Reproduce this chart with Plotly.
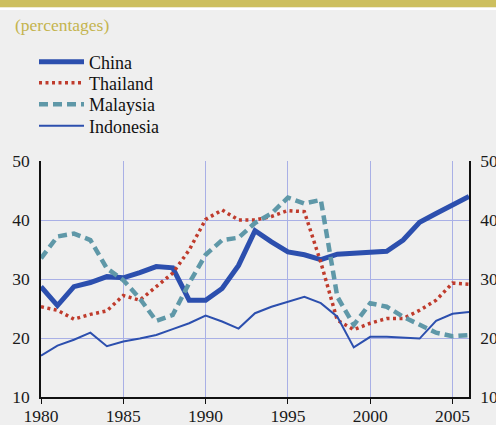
import plotly.graph_objects as go

years = list(range(1980, 2007))
china = [28.7, 25.5, 28.7, 29.4, 30.4, 30.2, 31.1, 32.1, 31.9, 26.4, 26.4, 28.4, 32.3,
         38.2, 36.3, 34.6, 34.1, 33.3, 34.2, 34.3, 34.5, 34.7, 36.6, 39.6, 41.1, 42.5, 44.0]
thailand = [25.3, 24.7, 23.2, 24.0, 24.6, 27.2, 26.4, 28.7, 31.0, 34.9, 40.1, 41.7, 40.0,
            40.0, 40.6, 41.6, 41.4, 32.8, 23.0, 21.4, 22.5, 23.3, 23.3, 24.7, 26.4, 29.3, 29.1]
malaysia = [33.5, 37.2, 37.7, 36.6, 31.8, 29.8, 26.7, 22.9, 23.9, 29.3, 34.1, 36.6, 37.0,
            39.5, 41.1, 43.8, 42.8, 43.4, 27.0, 22.2, 25.9, 25.3, 23.6, 22.2, 20.9, 20.3, 20.5]
indonesia = [17.0, 18.7, 19.7, 20.9, 18.6, 19.4, 19.9, 20.5, 21.5, 22.5, 23.8, 22.8, 21.6,
             24.2, 25.3, 26.2, 27.0, 25.9, 23.6, 18.4, 20.2, 20.2, 20.1, 19.9, 22.9, 24.1, 24.4]
y_ticks = [10, 20, 30, 40, 50]
x_ticks = [1980, 1985, 1990, 1995, 2000, 2005]

BLUE = "#2c4fae"
RED = "#bf3b2c"
TEAL = "#5f98a8"
GRID = "#a9b0e6"
BG = "#efefef"
SERIF = "'Liberation Serif', 'Times New Roman', Times, serif"

W, H = 496, 425
ML, MR, MT, MB = 41, 27, 161, 28
PW = W - ML - MR
PH = H - MT - MB


def px_x(x):
    return (x - ML) / PW


def px_y(y):
    return 1 + (MT - y) / PH


fig = go.Figure()
fig.add_trace(go.Scatter(x=years, y=china, name="China", mode="lines", legend="legend",
                         line=dict(color=BLUE, width=5)))
fig.add_trace(go.Scatter(x=years, y=thailand, name="Thailand", mode="lines", legend="legend2",
                         line=dict(color=RED, width=3.5, dash="3px,3.5px")))
fig.add_trace(go.Scatter(x=years, y=malaysia, name="Malaysia", mode="lines", legend="legend3",
                         line=dict(color=TEAL, width=4.5, dash="9px,5px")))
fig.add_trace(go.Scatter(x=years, y=indonesia, name="Indonesia", mode="lines", legend="legend4",
                         line=dict(color=BLUE, width=2)))
# invisible trace to carry the right-hand axis
fig.add_trace(go.Scatter(x=[years[0]], y=[y_ticks[0]], yaxis="y2", mode="markers",
                         marker=dict(opacity=0), showlegend=False, hoverinfo="skip"))

leg_common = dict(xanchor="left", yanchor="middle", bgcolor="rgba(0,0,0,0)",
                  font=dict(size=18, family=SERIF, color="#111"), itemwidth=45,
                  borderwidth=0)
legend_rows = {"legend": 62, "legend2": 83, "legend3": 104.5, "legend4": 126}
for key, ypx in legend_rows.items():
    fig.update_layout({key: dict(x=px_x(34), y=px_y(ypx), **leg_common)})

fig.update_layout(
    width=W, height=H,
    margin=dict(l=ML, r=MR, t=MT, b=MB, autoexpand=False),
    paper_bgcolor=BG, plot_bgcolor=BG,
    font=dict(family=SERIF, size=17, color="#1a1a1a"),
    showlegend=True,
    xaxis=dict(range=[1980, 2006], tickvals=x_ticks, showgrid=True, gridcolor=GRID,
               gridwidth=1, zeroline=False, showline=True, linecolor="#111", linewidth=1.5,
               ticks="outside", ticklen=5, tickcolor="#111", tickfont=dict(size=17.5),
               ticklabelstandoff=-3),
    yaxis=dict(range=[10, 50], tickvals=y_ticks, showgrid=True, gridcolor=GRID,
               gridwidth=1, zeroline=False, showline=True, linecolor="#111", linewidth=1.5,
               ticks="outside", ticklen=6, tickcolor="rgba(0,0,0,0)", tickfont=dict(size=17.5)),
    yaxis2=dict(range=[10, 50], tickvals=y_ticks, overlaying="y", side="right",
                showgrid=False, zeroline=False, showline=True, linecolor="#111",
                linewidth=1.5, ticks="outside", ticklen=6, tickcolor="rgba(0,0,0,0)",
                tickfont=dict(size=17.5)),
    shapes=[
        dict(type="rect", xref="paper", yref="paper", x0=px_x(0), x1=px_x(W),
             y0=px_y(7.5), y1=px_y(0), fillcolor="#cdbf5e", line=dict(width=0),
             layer="below"),
        dict(type="rect", xref="paper", yref="paper", x0=px_x(0), x1=px_x(W),
             y0=px_y(10), y1=px_y(7.5), fillcolor="#ffffff", line=dict(width=0),
             layer="below"),
    ],
    annotations=[
        dict(text="(percentages)", xref="paper", yref="paper", x=px_x(13), y=px_y(24.5),
             xanchor="left", yanchor="middle", showarrow=False,
             font=dict(family=SERIF, size=17.5, color="#c4b44e")),
    ],
)

fig.write_html(
    "out.html",
    config={"displayModeBar": False},
    post_script="document.body.style.margin='0';document.body.style.padding='0';"
                "document.body.style.background='#efefef';",
)
